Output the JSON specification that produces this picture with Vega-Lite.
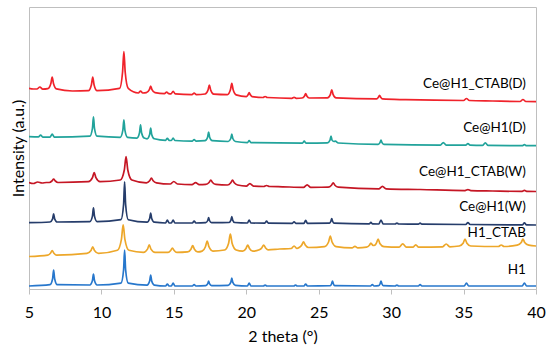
{
"$schema": "https://vega.github.io/schema/vega-lite/v6.json",
"width": 507, "height": 282,
"autosize": {"type": "none"},
"padding": {"left": 29, "top": 7, "right": 14, "bottom": 63},
"background": "white",
"config": {"view": {"stroke": "#BFBFBF", "strokeWidth": 1}, "font": "Lato"},
"datasets": {
"curves": [
{"s":"H1","x":5.0,"y":3},{"s":"H1","x":6.45,"y":4.3},{"s":"H1","x":6.63,"y":10.2},{"s":"H1","x":6.7,"y":19},{"s":"H1","x":6.77,"y":10.2},{"s":"H1","x":6.95,"y":4.3},
{"s":"H1","x":9.2,"y":4},{"s":"H1","x":9.38,"y":8.4},{"s":"H1","x":9.45,"y":15},{"s":"H1","x":9.52,"y":8.4},{"s":"H1","x":9.7,"y":4},
{"s":"H1","x":11.35,"y":5.9},{"s":"H1","x":11.53,"y":19.2},{"s":"H1","x":11.6,"y":39},{"s":"H1","x":11.67,"y":19.2},{"s":"H1","x":11.85,"y":5.9},
{"s":"H1","x":13.15,"y":3.9},{"s":"H1","x":13.33,"y":8},{"s":"H1","x":13.4,"y":14},{"s":"H1","x":13.47,"y":8},{"s":"H1","x":13.65,"y":3.9},
{"s":"H1","x":14.43,"y":3},{"s":"H1","x":14.55,"y":5},{"s":"H1","x":14.67,"y":3},
{"s":"H1","x":14.83,"y":3},{"s":"H1","x":14.95,"y":6},{"s":"H1","x":15.07,"y":3},
{"s":"H1","x":16.28,"y":3},{"s":"H1","x":16.4,"y":4.5},{"s":"H1","x":16.52,"y":3},
{"s":"H1","x":17.2,"y":3.4},{"s":"H1","x":17.34,"y":5.3},{"s":"H1","x":17.4,"y":8},{"s":"H1","x":17.46,"y":5.3},{"s":"H1","x":17.6,"y":3.4},
{"s":"H1","x":18.75,"y":3.6},{"s":"H1","x":18.93,"y":6.6},{"s":"H1","x":19.0,"y":11},{"s":"H1","x":19.07,"y":6.6},{"s":"H1","x":19.25,"y":3.6},
{"s":"H1","x":20.08,"y":3},{"s":"H1","x":20.2,"y":6},{"s":"H1","x":20.32,"y":3},
{"s":"H1","x":21.18,"y":3},{"s":"H1","x":21.3,"y":4},{"s":"H1","x":21.42,"y":3},
{"s":"H1","x":23.28,"y":3},{"s":"H1","x":23.4,"y":4},{"s":"H1","x":23.52,"y":3},
{"s":"H1","x":23.98,"y":3},{"s":"H1","x":24.1,"y":5},{"s":"H1","x":24.22,"y":3},
{"s":"H1","x":25.8,"y":3.3},{"s":"H1","x":25.89,"y":5.3},{"s":"H1","x":25.95,"y":8},{"s":"H1","x":26.01,"y":5.3},{"s":"H1","x":26.1,"y":3.3},
{"s":"H1","x":28.58,"y":3},{"s":"H1","x":28.7,"y":4.5},{"s":"H1","x":28.82,"y":3},
{"s":"H1","x":29.15,"y":3.3},{"s":"H1","x":29.24,"y":5.3},{"s":"H1","x":29.3,"y":8},{"s":"H1","x":29.36,"y":5.3},{"s":"H1","x":29.45,"y":3.3},
{"s":"H1","x":30.28,"y":3},{"s":"H1","x":30.4,"y":4},{"s":"H1","x":30.52,"y":3},
{"s":"H1","x":31.88,"y":3},{"s":"H1","x":32.0,"y":4.5},{"s":"H1","x":32.12,"y":3},
{"s":"H1","x":35.05,"y":3},{"s":"H1","x":35.2,"y":6},{"s":"H1","x":35.35,"y":3},
{"s":"H1","x":39.05,"y":3},{"s":"H1","x":39.2,"y":6},{"s":"H1","x":39.35,"y":3},{"s":"H1","x":40,"y":3},

{"s":"H1_CTAB","x":5.0,"y":32.5},{"s":"H1_CTAB","x":6.3,"y":33.9},{"s":"H1_CTAB","x":6.48,"y":35.8},{"s":"H1_CTAB","x":6.6,"y":38.3},{"s":"H1_CTAB","x":6.72,"y":35.8},{"s":"H1_CTAB","x":6.9,"y":33.9},
{"s":"H1_CTAB","x":9.0,"y":35.6},{"s":"H1_CTAB","x":9.28,"y":38.5},{"s":"H1_CTAB","x":9.4,"y":42.2},{"s":"H1_CTAB","x":9.52,"y":38.5},{"s":"H1_CTAB","x":9.8,"y":35.6},
{"s":"H1_CTAB","x":11.1,"y":38.7},{"s":"H1_CTAB","x":11.38,"y":49.7},{"s":"H1_CTAB","x":11.5,"y":64.2},{"s":"H1_CTAB","x":11.62,"y":49.7},{"s":"H1_CTAB","x":11.9,"y":38.7},
{"s":"H1_CTAB","x":12.9,"y":36.6},{"s":"H1_CTAB","x":13.18,"y":39.9},{"s":"H1_CTAB","x":13.3,"y":44.1},{"s":"H1_CTAB","x":13.42,"y":39.9},{"s":"H1_CTAB","x":13.7,"y":36.6},
{"s":"H1_CTAB","x":14.6,"y":36.6},{"s":"H1_CTAB","x":14.78,"y":38.5},{"s":"H1_CTAB","x":14.9,"y":41},{"s":"H1_CTAB","x":15.02,"y":38.5},{"s":"H1_CTAB","x":15.2,"y":36.6},
{"s":"H1_CTAB","x":15.95,"y":37.1},{"s":"H1_CTAB","x":16.18,"y":39.8},{"s":"H1_CTAB","x":16.3,"y":43.3},{"s":"H1_CTAB","x":16.42,"y":39.8},{"s":"H1_CTAB","x":16.65,"y":37.1},
{"s":"H1_CTAB","x":16.95,"y":37.9},{"s":"H1_CTAB","x":17.18,"y":42.3},{"s":"H1_CTAB","x":17.3,"y":48},{"s":"H1_CTAB","x":17.42,"y":42.3},{"s":"H1_CTAB","x":17.7,"y":37.9},
{"s":"H1_CTAB","x":18.5,"y":39},{"s":"H1_CTAB","x":18.78,"y":45.8},{"s":"H1_CTAB","x":18.9,"y":54.8},{"s":"H1_CTAB","x":19.02,"y":45.8},{"s":"H1_CTAB","x":19.3,"y":39},
{"s":"H1_CTAB","x":19.75,"y":37.8},{"s":"H1_CTAB","x":19.98,"y":40.5},{"s":"H1_CTAB","x":20.1,"y":44},{"s":"H1_CTAB","x":20.22,"y":40.5},{"s":"H1_CTAB","x":20.45,"y":37.8},
{"s":"H1_CTAB","x":20.9,"y":39.2},{"s":"H1_CTAB","x":21.08,"y":41.3},{"s":"H1_CTAB","x":21.2,"y":44},{"s":"H1_CTAB","x":21.32,"y":41.3},{"s":"H1_CTAB","x":21.5,"y":39.2},
{"s":"H1_CTAB","x":22.3,"y":40},
{"s":"H1_CTAB","x":23.1,"y":40.5},{"s":"H1_CTAB","x":23.3,"y":43},{"s":"H1_CTAB","x":23.5,"y":40.5},
{"s":"H1_CTAB","x":23.65,"y":41.5},{"s":"H1_CTAB","x":23.83,"y":44},{"s":"H1_CTAB","x":23.95,"y":47.2},{"s":"H1_CTAB","x":24.07,"y":44},{"s":"H1_CTAB","x":24.3,"y":41.5},
{"s":"H1_CTAB","x":25.4,"y":42.4},{"s":"H1_CTAB","x":25.68,"y":47},{"s":"H1_CTAB","x":25.8,"y":53},{"s":"H1_CTAB","x":25.92,"y":47},{"s":"H1_CTAB","x":26.2,"y":42.4},
{"s":"H1_CTAB","x":27.3,"y":41.2},{"s":"H1_CTAB","x":27.5,"y":42.7},{"s":"H1_CTAB","x":27.7,"y":41.2},
{"s":"H1_CTAB","x":28.3,"y":41.8},{"s":"H1_CTAB","x":28.5,"y":43.8},{"s":"H1_CTAB","x":28.6,"y":45.9},{"s":"H1_CTAB","x":28.75,"y":43.5},{"s":"H1_CTAB","x":28.9,"y":44},{"s":"H1_CTAB","x":29.0,"y":46.5},{"s":"H1_CTAB","x":29.1,"y":50},{"s":"H1_CTAB","x":29.22,"y":45.5},{"s":"H1_CTAB","x":29.5,"y":42.4},
{"s":"H1_CTAB","x":30.55,"y":41.9},{"s":"H1_CTAB","x":30.8,"y":45.1},{"s":"H1_CTAB","x":31.05,"y":41.9},
{"s":"H1_CTAB","x":31.5,"y":41.8},{"s":"H1_CTAB","x":31.7,"y":44.2},{"s":"H1_CTAB","x":31.9,"y":41.8},
{"s":"H1_CTAB","x":33.55,"y":42.2},{"s":"H1_CTAB","x":33.8,"y":45},{"s":"H1_CTAB","x":34.05,"y":42.2},
{"s":"H1_CTAB","x":34.7,"y":43},{"s":"H1_CTAB","x":34.98,"y":46},{"s":"H1_CTAB","x":35.1,"y":50},{"s":"H1_CTAB","x":35.22,"y":46},{"s":"H1_CTAB","x":35.5,"y":43},
{"s":"H1_CTAB","x":37.4,"y":42.5},{"s":"H1_CTAB","x":37.6,"y":44},{"s":"H1_CTAB","x":37.8,"y":42.5},
{"s":"H1_CTAB","x":38.7,"y":43.8},{"s":"H1_CTAB","x":38.98,"y":46.5},{"s":"H1_CTAB","x":39.1,"y":50},{"s":"H1_CTAB","x":39.22,"y":46.5},{"s":"H1_CTAB","x":39.5,"y":43.8},{"s":"H1_CTAB","x":40,"y":43},

{"s":"Ce@H1(W)","x":5.0,"y":66.3},{"s":"Ce@H1(W)","x":6.45,"y":67},{"s":"Ce@H1(W)","x":6.63,"y":70.1},{"s":"Ce@H1(W)","x":6.7,"y":75.2},{"s":"Ce@H1(W)","x":6.77,"y":70.1},{"s":"Ce@H1(W)","x":6.95,"y":67},
{"s":"Ce@H1(W)","x":9.2,"y":67.4},{"s":"Ce@H1(W)","x":9.38,"y":72.9},{"s":"Ce@H1(W)","x":9.45,"y":81.2},{"s":"Ce@H1(W)","x":9.52,"y":72.9},{"s":"Ce@H1(W)","x":9.7,"y":67.4},
{"s":"Ce@H1(W)","x":11.35,"y":69.3},{"s":"Ce@H1(W)","x":11.53,"y":84.5},{"s":"Ce@H1(W)","x":11.6,"y":107.2},{"s":"Ce@H1(W)","x":11.67,"y":84.5},{"s":"Ce@H1(W)","x":11.85,"y":69.3},
{"s":"Ce@H1(W)","x":13.15,"y":66.8},{"s":"Ce@H1(W)","x":13.33,"y":70.5},{"s":"Ce@H1(W)","x":13.4,"y":76},{"s":"Ce@H1(W)","x":13.47,"y":70.5},{"s":"Ce@H1(W)","x":13.65,"y":66.8},
{"s":"Ce@H1(W)","x":14.43,"y":66},{"s":"Ce@H1(W)","x":14.55,"y":69},{"s":"Ce@H1(W)","x":14.67,"y":66},
{"s":"Ce@H1(W)","x":14.83,"y":66},{"s":"Ce@H1(W)","x":14.95,"y":69},{"s":"Ce@H1(W)","x":15.07,"y":66},
{"s":"Ce@H1(W)","x":16.28,"y":66},{"s":"Ce@H1(W)","x":16.4,"y":68},{"s":"Ce@H1(W)","x":16.52,"y":66},
{"s":"Ce@H1(W)","x":17.2,"y":66.4},{"s":"Ce@H1(W)","x":17.34,"y":68.5},{"s":"Ce@H1(W)","x":17.4,"y":71.5},{"s":"Ce@H1(W)","x":17.46,"y":68.5},{"s":"Ce@H1(W)","x":17.6,"y":66.4},
{"s":"Ce@H1(W)","x":18.8,"y":66.5},{"s":"Ce@H1(W)","x":18.94,"y":68.9},{"s":"Ce@H1(W)","x":19.0,"y":72.5},{"s":"Ce@H1(W)","x":19.06,"y":68.9},{"s":"Ce@H1(W)","x":19.2,"y":66.5},
{"s":"Ce@H1(W)","x":20.08,"y":66},{"s":"Ce@H1(W)","x":20.2,"y":69},{"s":"Ce@H1(W)","x":20.32,"y":66},
{"s":"Ce@H1(W)","x":21.28,"y":65.9},{"s":"Ce@H1(W)","x":21.4,"y":67.9},{"s":"Ce@H1(W)","x":21.52,"y":65.9},
{"s":"Ce@H1(W)","x":23.18,"y":65.7},{"s":"Ce@H1(W)","x":23.3,"y":67.2},{"s":"Ce@H1(W)","x":23.42,"y":65.7},
{"s":"Ce@H1(W)","x":23.98,"y":65.6},{"s":"Ce@H1(W)","x":24.1,"y":68.6},{"s":"Ce@H1(W)","x":24.22,"y":65.6},
{"s":"Ce@H1(W)","x":25.75,"y":65.8},{"s":"Ce@H1(W)","x":25.84,"y":67.7},{"s":"Ce@H1(W)","x":25.9,"y":70.4},{"s":"Ce@H1(W)","x":25.96,"y":67.7},{"s":"Ce@H1(W)","x":26.05,"y":65.8},
{"s":"Ce@H1(W)","x":28.48,"y":65.1},{"s":"Ce@H1(W)","x":28.6,"y":66.6},{"s":"Ce@H1(W)","x":28.72,"y":65.1},
{"s":"Ce@H1(W)","x":29.15,"y":65},{"s":"Ce@H1(W)","x":29.3,"y":69},{"s":"Ce@H1(W)","x":29.45,"y":65},
{"s":"Ce@H1(W)","x":30.28,"y":65},{"s":"Ce@H1(W)","x":30.4,"y":66},{"s":"Ce@H1(W)","x":30.52,"y":65},
{"s":"Ce@H1(W)","x":31.88,"y":64.8},{"s":"Ce@H1(W)","x":32.0,"y":65.8},{"s":"Ce@H1(W)","x":32.12,"y":64.8},
{"s":"Ce@H1(W)","x":35.15,"y":64.5},{"s":"Ce@H1(W)","x":35.3,"y":66.5},{"s":"Ce@H1(W)","x":35.45,"y":64.5},
{"s":"Ce@H1(W)","x":39.05,"y":64.1},{"s":"Ce@H1(W)","x":39.2,"y":66.1},{"s":"Ce@H1(W)","x":39.35,"y":64.1},{"s":"Ce@H1(W)","x":40,"y":64},

{"s":"Ce@H1_CTAB(W)","x":5.0,"y":106.5},{"s":"Ce@H1_CTAB(W)","x":5.3,"y":105.5},{"s":"Ce@H1_CTAB(W)","x":5.6,"y":107},{"s":"Ce@H1_CTAB(W)","x":5.9,"y":106},{"s":"Ce@H1_CTAB(W)","x":6.2,"y":106.5},
{"s":"Ce@H1_CTAB(W)","x":6.4,"y":106.5},{"s":"Ce@H1_CTAB(W)","x":6.58,"y":108},{"s":"Ce@H1_CTAB(W)","x":6.7,"y":110},{"s":"Ce@H1_CTAB(W)","x":6.82,"y":108},{"s":"Ce@H1_CTAB(W)","x":7.0,"y":106.5},
{"s":"Ce@H1_CTAB(W)","x":9.1,"y":107.3},{"s":"Ce@H1_CTAB(W)","x":9.38,"y":111.3},{"s":"Ce@H1_CTAB(W)","x":9.5,"y":116.5},{"s":"Ce@H1_CTAB(W)","x":9.62,"y":111.3},{"s":"Ce@H1_CTAB(W)","x":9.9,"y":107.3},
{"s":"Ce@H1_CTAB(W)","x":11.3,"y":109},{"s":"Ce@H1_CTAB(W)","x":11.58,"y":119},{"s":"Ce@H1_CTAB(W)","x":11.7,"y":132.3},{"s":"Ce@H1_CTAB(W)","x":11.82,"y":119},{"s":"Ce@H1_CTAB(W)","x":12.1,"y":109},
{"s":"Ce@H1_CTAB(W)","x":13.1,"y":106.2},{"s":"Ce@H1_CTAB(W)","x":13.33,"y":108.2},{"s":"Ce@H1_CTAB(W)","x":13.45,"y":111},{"s":"Ce@H1_CTAB(W)","x":13.57,"y":108.2},{"s":"Ce@H1_CTAB(W)","x":13.8,"y":106.2},
{"s":"Ce@H1_CTAB(W)","x":14.75,"y":105},{"s":"Ce@H1_CTAB(W)","x":15.0,"y":107.5},{"s":"Ce@H1_CTAB(W)","x":15.25,"y":105},
{"s":"Ce@H1_CTAB(W)","x":16.25,"y":104.4},{"s":"Ce@H1_CTAB(W)","x":16.5,"y":106.4},{"s":"Ce@H1_CTAB(W)","x":16.75,"y":104.4},
{"s":"Ce@H1_CTAB(W)","x":17.2,"y":104.6},{"s":"Ce@H1_CTAB(W)","x":17.43,"y":106.5},{"s":"Ce@H1_CTAB(W)","x":17.55,"y":109},{"s":"Ce@H1_CTAB(W)","x":17.67,"y":106.5},{"s":"Ce@H1_CTAB(W)","x":17.9,"y":104.6},
{"s":"Ce@H1_CTAB(W)","x":18.7,"y":104},{"s":"Ce@H1_CTAB(W)","x":18.93,"y":106.2},{"s":"Ce@H1_CTAB(W)","x":19.05,"y":108.9},{"s":"Ce@H1_CTAB(W)","x":19.17,"y":106.2},{"s":"Ce@H1_CTAB(W)","x":19.4,"y":104},
{"s":"Ce@H1_CTAB(W)","x":20.0,"y":102.9},{"s":"Ce@H1_CTAB(W)","x":20.25,"y":105.4},{"s":"Ce@H1_CTAB(W)","x":20.5,"y":102.9},
{"s":"Ce@H1_CTAB(W)","x":21.2,"y":102.5},{"s":"Ce@H1_CTAB(W)","x":21.4,"y":103.5},{"s":"Ce@H1_CTAB(W)","x":21.6,"y":102.5},
{"s":"Ce@H1_CTAB(W)","x":22.5,"y":102.2},
{"s":"Ce@H1_CTAB(W)","x":23.95,"y":101.7},{"s":"Ce@H1_CTAB(W)","x":24.2,"y":104.2},{"s":"Ce@H1_CTAB(W)","x":24.45,"y":101.7},
{"s":"Ce@H1_CTAB(W)","x":25.65,"y":101.8},{"s":"Ce@H1_CTAB(W)","x":25.88,"y":103.7},{"s":"Ce@H1_CTAB(W)","x":26.0,"y":106.2},{"s":"Ce@H1_CTAB(W)","x":26.12,"y":103.7},{"s":"Ce@H1_CTAB(W)","x":26.35,"y":101.8},
{"s":"Ce@H1_CTAB(W)","x":29.15,"y":100.2},{"s":"Ce@H1_CTAB(W)","x":29.4,"y":102.7},{"s":"Ce@H1_CTAB(W)","x":29.65,"y":100.2},
{"s":"Ce@H1_CTAB(W)","x":32,"y":99.5},
{"s":"Ce@H1_CTAB(W)","x":35.1,"y":98.4},{"s":"Ce@H1_CTAB(W)","x":35.3,"y":99.4},{"s":"Ce@H1_CTAB(W)","x":35.5,"y":98.4},
{"s":"Ce@H1_CTAB(W)","x":37,"y":98},
{"s":"Ce@H1_CTAB(W)","x":39.0,"y":97.6},{"s":"Ce@H1_CTAB(W)","x":39.2,"y":98.6},{"s":"Ce@H1_CTAB(W)","x":39.4,"y":97.6},{"s":"Ce@H1_CTAB(W)","x":40,"y":97.5},

{"s":"Ce@H1(D)","x":5.0,"y":152.3},{"s":"Ce@H1(D)","x":5.65,"y":152.1},{"s":"Ce@H1(D)","x":5.8,"y":154},{"s":"Ce@H1(D)","x":5.95,"y":151.9},
{"s":"Ce@H1(D)","x":6.45,"y":151.9},{"s":"Ce@H1(D)","x":6.6,"y":154.8},{"s":"Ce@H1(D)","x":6.75,"y":151.8},
{"s":"Ce@H1(D)","x":9.2,"y":152.8},{"s":"Ce@H1(D)","x":9.38,"y":160.6},{"s":"Ce@H1(D)","x":9.45,"y":172.1},{"s":"Ce@H1(D)","x":9.52,"y":160.6},{"s":"Ce@H1(D)","x":9.7,"y":152.8},
{"s":"Ce@H1(D)","x":11.3,"y":151.7},{"s":"Ce@H1(D)","x":11.48,"y":158.8},{"s":"Ce@H1(D)","x":11.55,"y":169.2},{"s":"Ce@H1(D)","x":11.62,"y":158.8},{"s":"Ce@H1(D)","x":11.8,"y":151.7},
{"s":"Ce@H1(D)","x":12.45,"y":150.9},{"s":"Ce@H1(D)","x":12.63,"y":156.2},{"s":"Ce@H1(D)","x":12.7,"y":164.2},{"s":"Ce@H1(D)","x":12.77,"y":156.2},{"s":"Ce@H1(D)","x":12.95,"y":150.9},
{"s":"Ce@H1(D)","x":13.15,"y":150.2},{"s":"Ce@H1(D)","x":13.33,"y":154.5},{"s":"Ce@H1(D)","x":13.4,"y":160.8},{"s":"Ce@H1(D)","x":13.47,"y":154.5},{"s":"Ce@H1(D)","x":13.65,"y":150.2},
{"s":"Ce@H1(D)","x":14.43,"y":148.7},{"s":"Ce@H1(D)","x":14.55,"y":150.7},{"s":"Ce@H1(D)","x":14.67,"y":148.7},
{"s":"Ce@H1(D)","x":14.83,"y":148.5},{"s":"Ce@H1(D)","x":14.95,"y":151},{"s":"Ce@H1(D)","x":15.07,"y":148.5},
{"s":"Ce@H1(D)","x":16.28,"y":147.9},{"s":"Ce@H1(D)","x":16.4,"y":149.4},{"s":"Ce@H1(D)","x":16.52,"y":147.9},
{"s":"Ce@H1(D)","x":17.15,"y":148.3},{"s":"Ce@H1(D)","x":17.33,"y":151.8},{"s":"Ce@H1(D)","x":17.4,"y":157},{"s":"Ce@H1(D)","x":17.47,"y":151.8},{"s":"Ce@H1(D)","x":17.65,"y":148.3},
{"s":"Ce@H1(D)","x":18.75,"y":147.5},{"s":"Ce@H1(D)","x":18.93,"y":150.5},{"s":"Ce@H1(D)","x":19.0,"y":154.9},{"s":"Ce@H1(D)","x":19.07,"y":150.5},{"s":"Ce@H1(D)","x":19.25,"y":147.5},
{"s":"Ce@H1(D)","x":20.08,"y":146.4},{"s":"Ce@H1(D)","x":20.2,"y":148.4},{"s":"Ce@H1(D)","x":20.32,"y":146.4},
{"s":"Ce@H1(D)","x":23.88,"y":145.9},{"s":"Ce@H1(D)","x":24.0,"y":147.9},{"s":"Ce@H1(D)","x":24.12,"y":145.9},
{"s":"Ce@H1(D)","x":25.6,"y":146.2},{"s":"Ce@H1(D)","x":25.78,"y":148.9},{"s":"Ce@H1(D)","x":25.85,"y":152.9},{"s":"Ce@H1(D)","x":25.92,"y":148.9},{"s":"Ce@H1(D)","x":26.05,"y":147.5},{"s":"Ce@H1(D)","x":26.15,"y":147.8},{"s":"Ce@H1(D)","x":26.35,"y":146},
{"s":"Ce@H1(D)","x":29.1,"y":144.7},{"s":"Ce@H1(D)","x":29.23,"y":146.4},{"s":"Ce@H1(D)","x":29.3,"y":149},{"s":"Ce@H1(D)","x":29.37,"y":146.4},{"s":"Ce@H1(D)","x":29.5,"y":144.7},
{"s":"Ce@H1(D)","x":33.4,"y":143.9},{"s":"Ce@H1(D)","x":33.6,"y":146.4},{"s":"Ce@H1(D)","x":33.8,"y":143.9},
{"s":"Ce@H1(D)","x":35.15,"y":143.8},{"s":"Ce@H1(D)","x":35.3,"y":145.3},{"s":"Ce@H1(D)","x":35.45,"y":143.8},
{"s":"Ce@H1(D)","x":36.3,"y":143.6},{"s":"Ce@H1(D)","x":36.5,"y":146.1},{"s":"Ce@H1(D)","x":36.7,"y":143.6},
{"s":"Ce@H1(D)","x":39.05,"y":143.3},{"s":"Ce@H1(D)","x":39.2,"y":144.3},{"s":"Ce@H1(D)","x":39.35,"y":143.3},{"s":"Ce@H1(D)","x":40,"y":143.3},

{"s":"Ce@H1_CTAB(D)","x":5.0,"y":200.7},{"s":"Ce@H1_CTAB(D)","x":5.3,"y":200},{"s":"Ce@H1_CTAB(D)","x":5.55,"y":200},{"s":"Ce@H1_CTAB(D)","x":5.75,"y":202},{"s":"Ce@H1_CTAB(D)","x":5.95,"y":199.8},
{"s":"Ce@H1_CTAB(D)","x":6.3,"y":200.3},{"s":"Ce@H1_CTAB(D)","x":6.51,"y":205.5},{"s":"Ce@H1_CTAB(D)","x":6.6,"y":212},{"s":"Ce@H1_CTAB(D)","x":6.69,"y":205.5},{"s":"Ce@H1_CTAB(D)","x":6.9,"y":200.1},
{"s":"Ce@H1_CTAB(D)","x":8.0,"y":198},
{"s":"Ce@H1_CTAB(D)","x":9.1,"y":198.3},{"s":"Ce@H1_CTAB(D)","x":9.31,"y":204.3},{"s":"Ce@H1_CTAB(D)","x":9.4,"y":211.8},{"s":"Ce@H1_CTAB(D)","x":9.49,"y":204.3},{"s":"Ce@H1_CTAB(D)","x":9.7,"y":198.3},
{"s":"Ce@H1_CTAB(D)","x":11.25,"y":200.6},{"s":"Ce@H1_CTAB(D)","x":11.46,"y":217},{"s":"Ce@H1_CTAB(D)","x":11.55,"y":237.5},{"s":"Ce@H1_CTAB(D)","x":11.64,"y":217},{"s":"Ce@H1_CTAB(D)","x":11.85,"y":200.6},
{"s":"Ce@H1_CTAB(D)","x":12.55,"y":196},{"s":"Ce@H1_CTAB(D)","x":12.7,"y":198},{"s":"Ce@H1_CTAB(D)","x":12.85,"y":196},
{"s":"Ce@H1_CTAB(D)","x":13.1,"y":196.4},{"s":"Ce@H1_CTAB(D)","x":13.31,"y":199.4},{"s":"Ce@H1_CTAB(D)","x":13.4,"y":203},{"s":"Ce@H1_CTAB(D)","x":13.49,"y":199.4},{"s":"Ce@H1_CTAB(D)","x":13.7,"y":196.4},
{"s":"Ce@H1_CTAB(D)","x":14.35,"y":195.3},{"s":"Ce@H1_CTAB(D)","x":14.5,"y":196.8},{"s":"Ce@H1_CTAB(D)","x":14.65,"y":195.3},
{"s":"Ce@H1_CTAB(D)","x":14.8,"y":195.1},{"s":"Ce@H1_CTAB(D)","x":14.95,"y":197.6},{"s":"Ce@H1_CTAB(D)","x":15.1,"y":195.1},
{"s":"Ce@H1_CTAB(D)","x":16.25,"y":194.4},{"s":"Ce@H1_CTAB(D)","x":16.4,"y":195.9},{"s":"Ce@H1_CTAB(D)","x":16.55,"y":194.4},
{"s":"Ce@H1_CTAB(D)","x":17.15,"y":195},{"s":"Ce@H1_CTAB(D)","x":17.36,"y":199},{"s":"Ce@H1_CTAB(D)","x":17.45,"y":204},{"s":"Ce@H1_CTAB(D)","x":17.54,"y":199},{"s":"Ce@H1_CTAB(D)","x":17.75,"y":194.8},
{"s":"Ce@H1_CTAB(D)","x":18.7,"y":194.3},{"s":"Ce@H1_CTAB(D)","x":18.91,"y":199.4},{"s":"Ce@H1_CTAB(D)","x":19.0,"y":205.7},{"s":"Ce@H1_CTAB(D)","x":19.09,"y":199.4},{"s":"Ce@H1_CTAB(D)","x":19.3,"y":194.1},
{"s":"Ce@H1_CTAB(D)","x":20.0,"y":192.4},{"s":"Ce@H1_CTAB(D)","x":20.12,"y":194.2},{"s":"Ce@H1_CTAB(D)","x":20.2,"y":196.3},{"s":"Ce@H1_CTAB(D)","x":20.28,"y":194.2},{"s":"Ce@H1_CTAB(D)","x":20.4,"y":192.4},
{"s":"Ce@H1_CTAB(D)","x":21.15,"y":191.5},{"s":"Ce@H1_CTAB(D)","x":21.3,"y":192.5},{"s":"Ce@H1_CTAB(D)","x":21.45,"y":191.5},
{"s":"Ce@H1_CTAB(D)","x":23.15,"y":190.7},{"s":"Ce@H1_CTAB(D)","x":23.3,"y":191.7},{"s":"Ce@H1_CTAB(D)","x":23.45,"y":190.7},
{"s":"Ce@H1_CTAB(D)","x":23.85,"y":191},{"s":"Ce@H1_CTAB(D)","x":24.02,"y":193},{"s":"Ce@H1_CTAB(D)","x":24.1,"y":195.5},{"s":"Ce@H1_CTAB(D)","x":24.18,"y":193},{"s":"Ce@H1_CTAB(D)","x":24.35,"y":191},
{"s":"Ce@H1_CTAB(D)","x":25.6,"y":191.1},{"s":"Ce@H1_CTAB(D)","x":25.81,"y":194.7},{"s":"Ce@H1_CTAB(D)","x":25.9,"y":199.2},{"s":"Ce@H1_CTAB(D)","x":25.99,"y":194.7},{"s":"Ce@H1_CTAB(D)","x":26.2,"y":191.1},
{"s":"Ce@H1_CTAB(D)","x":29.0,"y":190.1},{"s":"Ce@H1_CTAB(D)","x":29.12,"y":191.7},{"s":"Ce@H1_CTAB(D)","x":29.2,"y":193.7},{"s":"Ce@H1_CTAB(D)","x":29.28,"y":191.7},{"s":"Ce@H1_CTAB(D)","x":29.4,"y":190.1},
{"s":"Ce@H1_CTAB(D)","x":31,"y":189.3},
{"s":"Ce@H1_CTAB(D)","x":35.0,"y":188.5},{"s":"Ce@H1_CTAB(D)","x":35.2,"y":190.5},{"s":"Ce@H1_CTAB(D)","x":35.4,"y":188.5},
{"s":"Ce@H1_CTAB(D)","x":37,"y":188},
{"s":"Ce@H1_CTAB(D)","x":38.9,"y":187.5},{"s":"Ce@H1_CTAB(D)","x":39.1,"y":189.5},{"s":"Ce@H1_CTAB(D)","x":39.3,"y":187.5},{"s":"Ce@H1_CTAB(D)","x":40,"y":187.3}
],
"labels": [
{"label":"Ce@H1_CTAB(D)","x":39.3,"y":205},
{"label":"Ce@H1(D)","x":39.3,"y":160.7},
{"label":"Ce@H1_CTAB(W)","x":39.3,"y":117.3},
{"label":"Ce@H1(W)","x":39.3,"y":82.3},
{"label":"H1_CTAB","x":39.3,"y":55.7},
{"label":"H1","x":39.3,"y":19}
]
},
"layer": [
{
"data": {"name": "curves"},
"mark": {"type": "line", "strokeWidth": 1.7, "interpolate": "monotone", "clip": true},
"encoding": {
"x": {"field": "x", "type": "quantitative",
  "scale": {"domain": [5, 40], "nice": false, "zero": false},
  "axis": {"values": [5,10,15,20,25,30,35,40], "title": "2 theta (°)", "grid": false,
    "domainColor": "#BFBFBF", "tickColor": "#BFBFBF", "tickSize": 5,
    "labelFontSize": 16, "labelColor": "#000000", "labelPadding": 10, "labelFlush": false,
    "titleFontSize": 16, "titleFontWeight": "normal", "titleColor": "#000000", "titlePadding": 8}},
"y": {"field": "y", "type": "quantitative",
  "scale": {"domain": [0, 282], "nice": false, "zero": false},
  "axis": {"title": "Intensity (a.u.)", "labels": false, "ticks": false, "domain": false, "grid": false,
    "titleFontSize": 16, "titleFontWeight": "normal", "titleColor": "#000000", "titlePadding": 3}},
"color": {"field": "s", "type": "nominal", "legend": null,
  "scale": {"domain": ["H1","H1_CTAB","Ce@H1(W)","Ce@H1_CTAB(W)","Ce@H1(D)","Ce@H1_CTAB(D)"],
    "range": ["#2777CC","#EDA72A","#263D6B","#C51624","#21A39B","#F0232B"]}}
}
},
{
"data": {"name": "labels"},
"mark": {"type": "text", "align": "right", "baseline": "middle", "fontSize": 13.5, "color": "#000000"},
"encoding": {
"x": {"field": "x", "type": "quantitative"},
"y": {"field": "y", "type": "quantitative"},
"text": {"field": "label"}
}
}
]
}
